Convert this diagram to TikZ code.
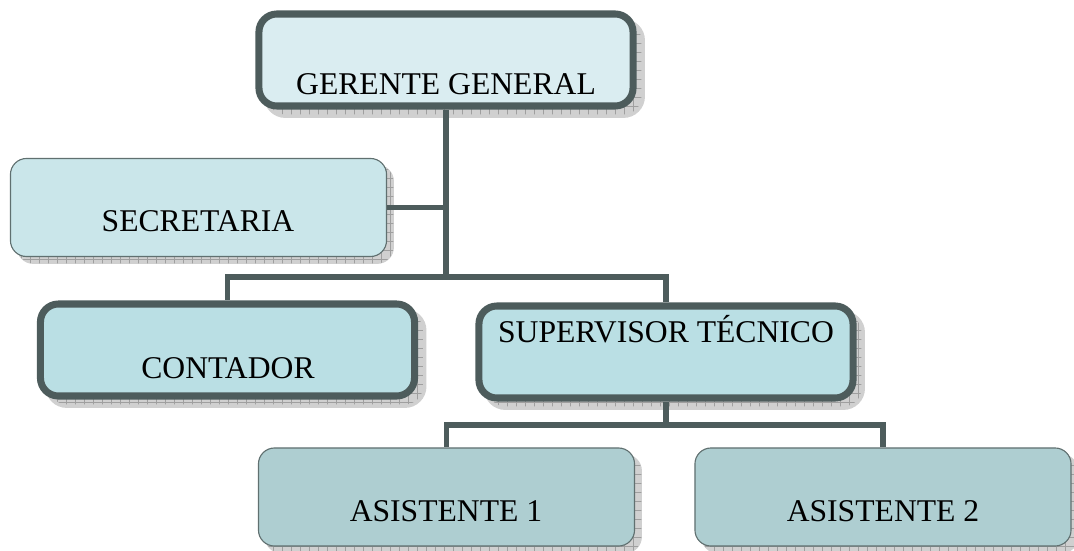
\documentclass[tikz,border=0pt]{standalone}
\usepackage{fontspec}
\setmainfont{Liberation Serif}
\usetikzlibrary{shadows,patterns.meta}

\definecolor{rim}{RGB}{77,92,92}
\definecolor{thinrim}{RGB}{96,112,112}
\definecolor{topfill}{RGB}{218,237,241}
\definecolor{secfill}{RGB}{202,230,234}
\definecolor{midfill}{RGB}{186,223,228}
\definecolor{lowfill}{RGB}{174,206,209}
\definecolor{shadowfill}{RGB}{208,208,208}

% grey grid for the box shadows
\tikzdeclarepattern{
  name=shadow grid,
  type=uncolored,
  bottom left={(0pt,0pt)},
  top right={(6.4pt,6.4pt)},
  tile size={(6.4pt,6.4pt)},
  code={\draw[line width=.4pt] (0pt,3.2pt) -- (6.4pt,3.2pt) (3.2pt,0pt) -- (3.2pt,6.4pt);}
}

\begin{document}
\begin{tikzpicture}[x=0.025cm,y=-0.025cm,
  shade box/.style={general shadow={fill=shadowfill,draw=shadowfill,shadow xshift=#1,shadow yshift=-#1},
                    general shadow={pattern={shadow grid},pattern color=gray!75,shadow xshift=#1,shadow yshift=-#1}},
  head node/.style={rectangle,draw=rim,line width=5pt,rounded corners=0.45cm,
                    minimum width=9.35cm,minimum height=2.3cm,inner sep=0pt,shade box=0.21cm},
  plain node/.style={rectangle,draw=thinrim,line width=0.8pt,rounded corners=0.4cm,
                    minimum width=9.4cm,minimum height=2.45cm,inner sep=0pt,shade box=0.17cm},
  caption/.style={anchor=base,inner sep=0pt,font=\fontsize{22.5}{27}\selectfont},
  link/.style={draw=rim,line width=4.2pt},
  hv/.style={to path={-| (\tikztotarget)}}]

  \useasboundingbox (0,0) rectangle (1074,551);

  \node[head node,fill=topfill] (gg) at (446,60) {};
  \node[plain node,fill=secfill] (sec) at (198.5,207.5) {};
  \node[head node,fill=midfill] (con) at (227.5,350) {};
  \node[head node,fill=midfill] (sup) at (666,352) {};
  \node[plain node,fill=lowfill] (as1) at (446.5,497) {};
  \node[plain node,fill=lowfill] (as2) at (883,497) {};

  \coordinate (trunk) at (446,277);
  \coordinate (fork) at (666,425);

  \path[link]
  (gg) edge (trunk)
  (sec.east) edge (sec.east -| trunk)
  (trunk) edge[hv] (con.north)
  (trunk) edge[hv] (sup.north)
  (sup) edge (fork)
  (fork) edge[hv] (as1.north)
  (fork) edge[hv] (as2.north);

  \node[caption] (ggt) at (446,95) {GERENTE GENERAL};
  \node[caption] (sect) at (198,232) {SECRETARIA};
  \node[caption] (cont) at (228,378) {CONTADOR};
  \node[caption] (supt) at (666,343) {SUPERVISOR TÉCNICO};
  \node[caption] (as1t) at (446,521) {ASISTENTE 1};
  \node[caption] (as2t) at (883,521) {ASISTENTE 2};
\end{tikzpicture}
\end{document}
